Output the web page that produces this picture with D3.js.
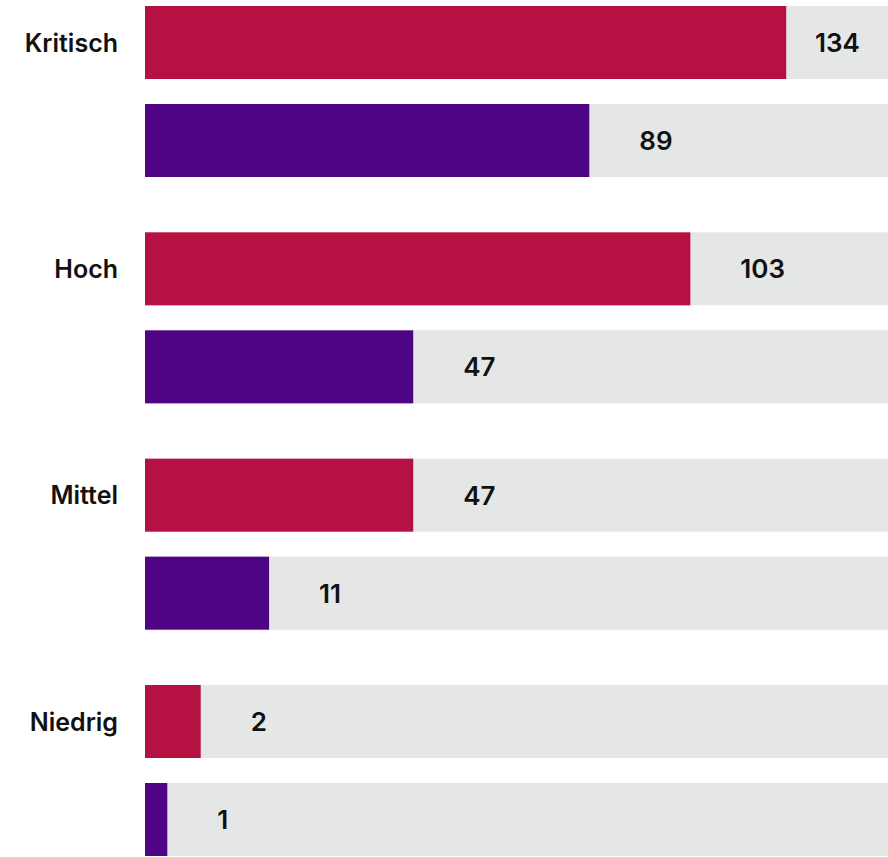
<!DOCTYPE html>
<html>
<head>
<meta charset="utf-8">
<script src="https://cdn.jsdelivr.net/npm/d3@7"></script>
<style>
  body { margin: 0; background: #fff; }
  svg { display: block; }
  text { font-family: Inter, "Noto Sans", sans-serif; font-weight: 600; fill: #111; }
</style>
</head>
<body>
<svg id="chart"></svg>
<script>
// categories (severity) and the two series per category
const categories = ["Kritisch", "Hoch", "Mittel", "Niedrig"];
const seriesKeys = ["first", "second"];
const seriesColors = ["#b51143", "#4f0385"];

// counts shown as labels
const firstValues = [134, 103, 47, 2];
const secondValues = [89, 47, 11, 1];

// bar length as share of the grey track (%)
const firstShare = [86.3, 73.4, 36.1, 7.5];
const secondShare = [59.8, 36.1, 16.7, 3.0];

const width = 888, height = 857;
const margin = { top: 6, right: 0, bottom: 0, left: 145 };

const svg = d3.select("#chart")
    .attr("width", width)
    .attr("height", height);

const rows = categories.map((c, i) => ({
    category: c,
    bars: [
        { key: seriesKeys[0], value: firstValues[i], share: firstShare[i] },
        { key: seriesKeys[1], value: secondValues[i], share: secondShare[i] }
    ]
}));

const trackWidth = width - margin.left;

const x = d3.scaleLinear()
    .domain([0, 100])
    .range([0, trackWidth]);

// group start positions
const yGroup = d3.scalePoint()
    .domain(categories)
    .range([margin.top, 685]);

// two bars inside each group
const ySub = d3.scaleBand()
    .domain(seriesKeys)
    .range([0, 171])
    .paddingInner(25 / 98);

const color = d3.scaleOrdinal()
    .domain(seriesKeys)
    .range(seriesColors);

const container = svg.append("g")
    .attr("transform", `translate(${margin.left}, 0)`);

const groups = container.selectAll("g.group")
    .data(rows)
    .join("g")
    .attr("class", "group")
    .attr("transform", d => `translate(0, ${yGroup(d.category)})`);

// grey tracks
groups.selectAll("rect.track")
    .data(d => d.bars)
    .join("rect")
    .attr("class", "track")
    .attr("x", 0)
    .attr("y", d => ySub(d.key))
    .attr("width", trackWidth)
    .attr("height", ySub.bandwidth())
    .attr("fill", "#e5e6e6");

// coloured bars
groups.selectAll("rect.bar")
    .data(d => d.bars)
    .join("rect")
    .attr("class", "bar")
    .attr("x", 0)
    .attr("y", d => ySub(d.key))
    .attr("width", d => x(d.share))
    .attr("height", ySub.bandwidth())
    .attr("fill", d => color(d.key));

// value labels, kept inside the track
groups.selectAll("text.value")
    .data(d => d.bars)
    .join("text")
    .attr("class", "value")
    .attr("x", function(d) {
        return Math.min(x(d.share) + 50, trackWidth - 73);
    })
    .attr("y", d => ySub(d.key) + ySub.bandwidth() / 2)
    .attr("dy", "0.36em")
    .attr("font-size", 26)
    .text(d => d.value);

// category labels
groups.append("text")
    .attr("x", -27)
    .attr("y", ySub("first") + ySub.bandwidth() / 2)
    .attr("dy", "0.36em")
    .attr("text-anchor", "end")
    .attr("font-size", 25)
    .text(d => d.category);
</script>
</body>
</html>
